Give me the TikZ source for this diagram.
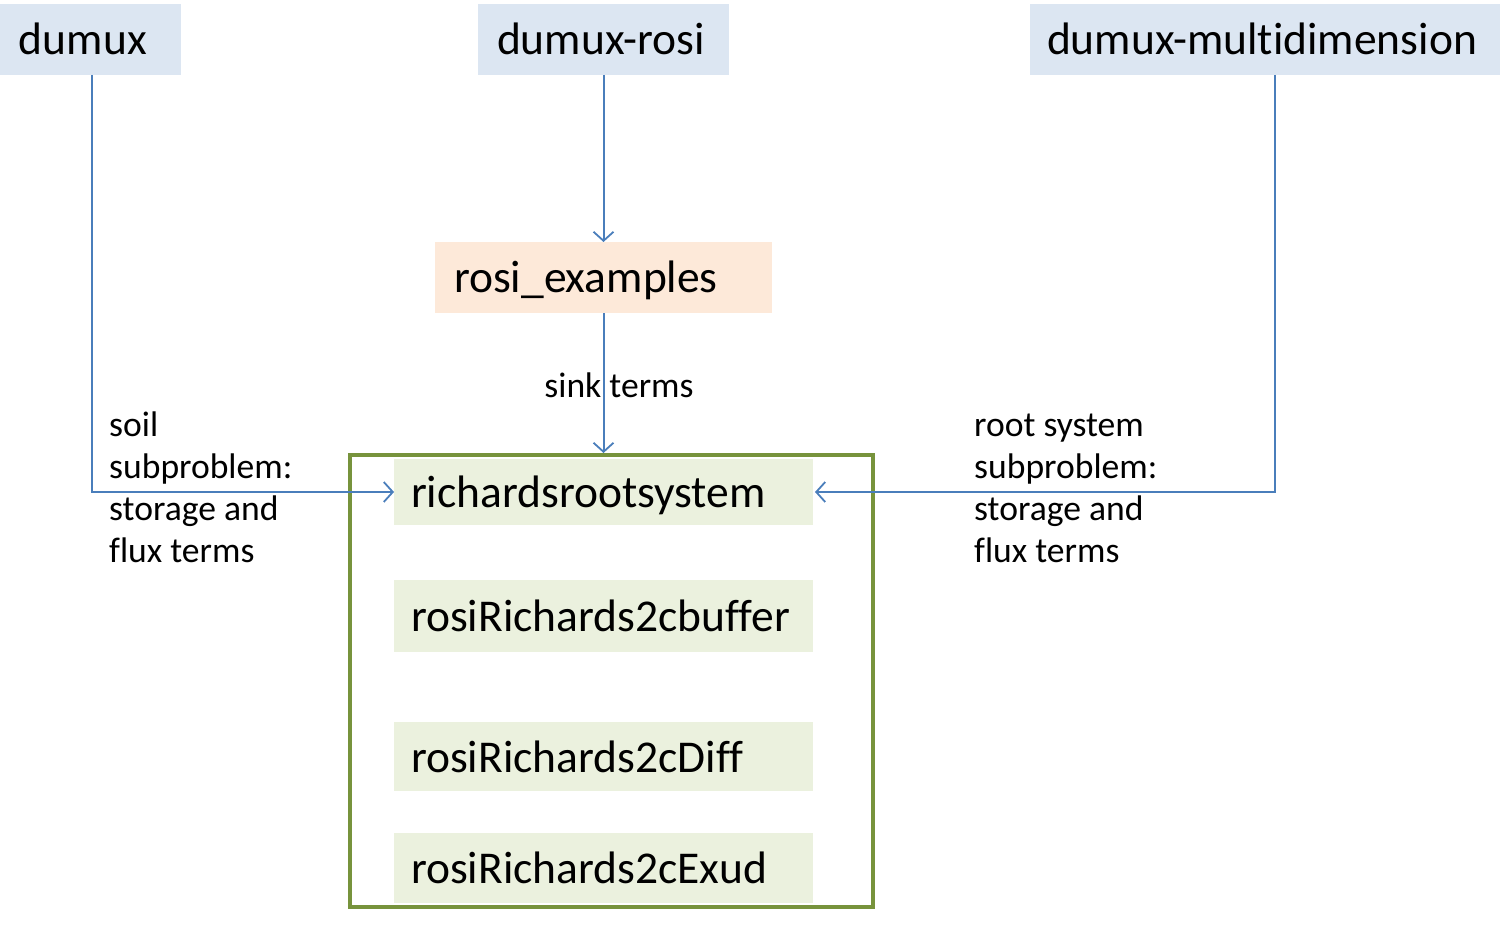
\documentclass[tikz,border=0pt]{standalone}
\usepackage{fontspec}
\setmainfont{Carlito}[Ligatures={NoCommon}]
\usetikzlibrary{arrows.meta}
\definecolor{boxblue}{HTML}{DCE6F2}
\definecolor{boxpeach}{HTML}{FDE9D9}
\definecolor{boxgreen}{HTML}{EBF1DE}
\definecolor{framegreen}{HTML}{77933C}
\definecolor{linkblue}{HTML}{4A7EBB}
\tikzset{
  bigbox/.style={anchor=north west, inner sep=0pt, outer sep=0pt, text height=36pt, text depth=5pt,
    font=\fontsize{45.5}{52}\selectfont, align=left},
  link/.style={draw=linkblue, line width=2pt, -{Straight Barb[length=9pt,width=20pt,line width=1.8pt]}},
  lbl/.style={anchor=base west, inner sep=0pt, align=left, font=\fontsize{35.6}{42}\selectfont}
}
\begin{document}
\begin{tikzpicture}[x=1pt,y=-1pt]
\useasboundingbox (0,0) rectangle (1500,928);
\node[bigbox, fill=boxblue, minimum width=181pt, minimum height=71pt, text width=181pt] (dumux) at (0,4) {\hspace*{19pt}dumux};
\node[bigbox, fill=boxblue, minimum width=251pt, minimum height=71pt, text width=251pt] (rosi) at (478,4) {\hspace*{19pt}dumux-rosi};
\node[bigbox, fill=boxblue, minimum width=470pt, minimum height=71pt, text width=470pt] (multi) at (1030,4) {\hspace*{17pt}dumux-multidimension};
\node[bigbox, fill=boxpeach, minimum width=337pt, minimum height=71pt, text width=337pt] (ex) at (435,242) {\hspace*{19pt}rosi\_examples};
\draw[framegreen, line width=4pt] (350,455) rectangle (873,907);
\node[bigbox, fill=boxgreen, minimum width=419pt, minimum height=66pt, text width=419pt] (rrs) at (394,459) {\hspace*{17pt}richardsrootsystem};
\node[bigbox, fill=boxgreen, minimum width=419pt, minimum height=72pt, text width=419pt] (buf) at (394,580) {\hspace*{17pt}rosiRichards2cbuffer};
\node[bigbox, fill=boxgreen, minimum width=419pt, minimum height=69pt, text width=419pt] (diff) at (394,722) {\hspace*{17pt}rosiRichards2cDiff};
\node[bigbox, fill=boxgreen, minimum width=419pt, minimum height=70pt, text width=419pt] (exud) at (394,833) {\hspace*{17pt}rosiRichards2cExud};
\draw[link] ([xshift=1.5pt]dumux.south) |- (rrs.west);
\draw[link] (rosi.south) -- (ex.north);
\draw[link] (ex.south) -- ([yshift=6pt]rrs.north);
\draw[link] ([xshift=10pt]multi.south) |- ([xshift=2pt]rrs.east);
\node[anchor=center, inner sep=0pt, font=\fontsize{35.6}{42}\selectfont] (sink) at (619,385) {sink terms};
\node[lbl] (soil) at (109,562) {soil\\subproblem:\\storage and\\flux terms};
\node[lbl] (root) at (974,562) {root system\\subproblem:\\storage and\\flux terms};
\end{tikzpicture}
\end{document}
